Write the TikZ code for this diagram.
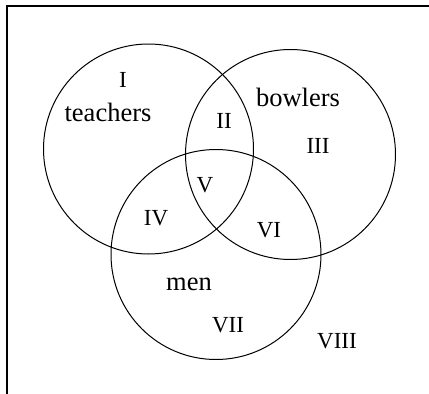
\documentclass[tikz,border=0pt]{standalone}
\usepackage{fontspec}
\setmainfont{Liberation Serif}
\begin{document}
\begin{tikzpicture}[x=1pt,y=-1pt,
  setcircle/.style={draw=black,line width=1pt},
  frameline/.style={draw=black,line width=1.6pt},
  roman/.style={font=\fontsize{23}{25}\selectfont,inner sep=0pt},
  word/.style={font=\fontsize{26.5}{28}\selectfont,inner sep=0pt}]
\useasboundingbox (0,0) rectangle (429,394);
\coordinate (fb) at (7,394);
\coordinate (fc) at (7,6);
\coordinate (fr) at (429,6);
\draw[frameline] (fb) -- (fc) -- (fr);
\node[setcircle,circle,minimum size=210pt,inner sep=0pt] (teach) at (148.5,149) {};
\node[setcircle,circle,minimum size=210pt,inner sep=0pt] (bowl) at (290.5,154.5) {};
\node[setcircle,circle,minimum size=210pt,inner sep=0pt] (menc) at (216,254.5) {};
\node[roman] (r1) at (123,80) {I};
\node[word] (wt) at (108,112) {teachers};
\node[word] (wb) at (298,97) {bowlers};
\node[roman] (r2) at (224,121) {II};
\node[roman] (r3) at (318,146) {III};
\node[roman] (r5) at (205,185) {V};
\node[roman] (r4) at (156,218) {IV};
\node[roman] (r6) at (269,230) {VI};
\node[word] (wm) at (189,284) {men};
\node[roman] (r7) at (228,325) {VII};
\node[roman] (r8) at (337,341) {VIII};
\end{tikzpicture}
\end{document}
